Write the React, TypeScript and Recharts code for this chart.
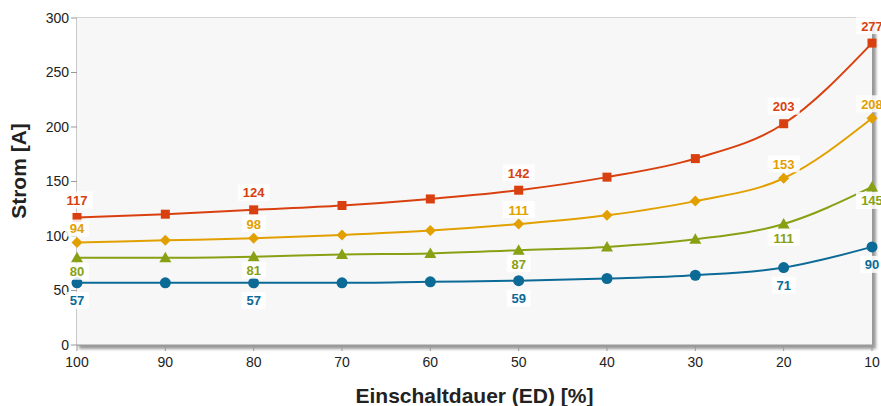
import { CartesianGrid, LabelList, Line, LineChart, ReferenceArea, XAxis, YAxis, Label } from "recharts";

const categories = ["100", "90", "80", "70", "60", "50", "40", "30", "20", "10"];
const red = [117, 120, 124, 128, 134, 142, 154, 171, 203, 277];
const yellow = [94, 96, 98, 101, 105, 111, 119, 132, 153, 208];
const green = [80, 80, 81, 83, 84, 87, 90, 97, 111, 145];
const blue = [57, 57, 57, 57, 58, 59, 61, 64, 71, 90];
const labeled = ["100", "80", "50", "20", "10"];
const yTicks = [0, 50, 100, 150, 200, 250, 300];

const data = categories.map((ed, i) => ({ ed, red: red[i], yellow: yellow[i], green: green[i], blue: blue[i] }));

const FONT = "'Liberation Sans', Arial, Helvetica, sans-serif";

function makeLabel(color: string, dy: number) {
  return (props: any) => {
    const { x, y, value, index } = props;
    if (!labeled.includes(categories[index])) return null;
    const w = String(value).length * 8 + 8;
    return (
      <g>
        <rect x={x - w / 2} y={y + dy - 9} width={w} height={17} fill="#fff" fillOpacity={0.85} />
        <text x={x} y={y + dy} textAnchor="middle" dominantBaseline="central" fill={color} fontSize={13} fontWeight="bold" fontFamily={FONT}>
          {value}
        </text>
      </g>
    );
  };
}

const squareDot = (color: string) => (p: any) => (
  <rect key={`s${p.index}`} x={p.cx - 4.5} y={p.cy - 4.5} width={9} height={9} fill={color} />
);
const diamondDot = (color: string) => (p: any) => (
  <path key={`d${p.index}`} d={`M${p.cx} ${p.cy - 5.5} L${p.cx + 5.5} ${p.cy} L${p.cx} ${p.cy + 5.5} L${p.cx - 5.5} ${p.cy} Z`} fill={color} />
);
const triangleDot = (color: string) => (p: any) => (
  <path key={`t${p.index}`} d={`M${p.cx} ${p.cy - 6} L${p.cx + 6} ${p.cy + 4.5} L${p.cx - 6} ${p.cy + 4.5} Z`} fill={color} />
);
const circleDot = (color: string) => (p: any) => (
  <circle key={`c${p.index}`} cx={p.cx} cy={p.cy} r={5.5} fill={color} />
);

const PlotBg = (p: any) => (
  <g>
    <rect x={p.x + 2} y={p.y + 2} width={p.width + 2} height={p.height + 2} fill="#999" filter="url(#plotShadow)" />
    <rect x={p.x} y={p.y} width={p.width} height={p.height} fill="#f7f7f7" />
  </g>
);

const YTitle = () => (
  <text x={26} y={171} transform="rotate(-90 26 171)" textAnchor="middle" fill="#222" fontSize={21} fontWeight="bold" fontFamily={FONT}>
    Strom [A]
  </text>
);

const RED = "#d9400f";
const YELLOW = "#e2a000";
const GREEN = "#88a114";
const BLUE = "#0b6a96";

export default function App() {
  return (
    <div style={{ position: "absolute", left: 0, top: 0, width: 881, height: 406, background: "#fff" }}>
      <LineChart width={881} height={406} data={data} margin={{ top: 18, right: 9, left: 0, bottom: 31 }}>
        <defs>
          <filter id="plotShadow" x="-5%" y="-5%" width="110%" height="110%">
            <feGaussianBlur stdDeviation="1.5" />
          </filter>
        </defs>
        <ReferenceArea x1="100" x2="10" y1={0} y2={300} shape={PlotBg} ifOverflow="visible" />
        <CartesianGrid stroke="#aaa" strokeWidth={1.2} />
        <XAxis
          dataKey="ed"
          height={30}
          tick={{ fill: "#222", fontSize: 14, fontFamily: FONT }}
          tickLine={{ stroke: "#999" }}
          axisLine={{ stroke: "#999" }}
          tickSize={6}
          tickMargin={6}
          interval={0}
        >
          <Label value="Einschaltdauer (ED) [%]" position="insideBottom" offset={-28} fill="#222" fontSize={21} fontWeight="bold" fontFamily={FONT} />
        </XAxis>
        <YAxis
          width={77}
          domain={[0, 300]}
          ticks={yTicks}
          tick={{ fill: "#222", fontSize: 14, fontFamily: FONT }}
          tickLine={{ stroke: "#999" }}
          axisLine={false}
          tickSize={6}
        >
          <Label content={YTitle} />
        </YAxis>
        <Line type="monotone" dataKey="red" stroke={RED} strokeWidth={2} dot={squareDot(RED)} activeDot={false} isAnimationActive={false}>
          <LabelList dataKey="red" content={makeLabel(RED, -17)} />
        </Line>
        <Line type="monotone" dataKey="yellow" stroke={YELLOW} strokeWidth={2} dot={diamondDot(YELLOW)} activeDot={false} isAnimationActive={false}>
          <LabelList dataKey="yellow" content={makeLabel(YELLOW, -14)} />
        </Line>
        <Line type="monotone" dataKey="green" stroke={GREEN} strokeWidth={2} dot={triangleDot(GREEN)} activeDot={false} isAnimationActive={false}>
          <LabelList dataKey="green" content={makeLabel(GREEN, 14)} />
        </Line>
        <Line type="monotone" dataKey="blue" stroke={BLUE} strokeWidth={2} dot={circleDot(BLUE)} activeDot={false} isAnimationActive={false}>
          <LabelList dataKey="blue" content={makeLabel(BLUE, 18)} />
        </Line>
      </LineChart>
    </div>
  );
}
